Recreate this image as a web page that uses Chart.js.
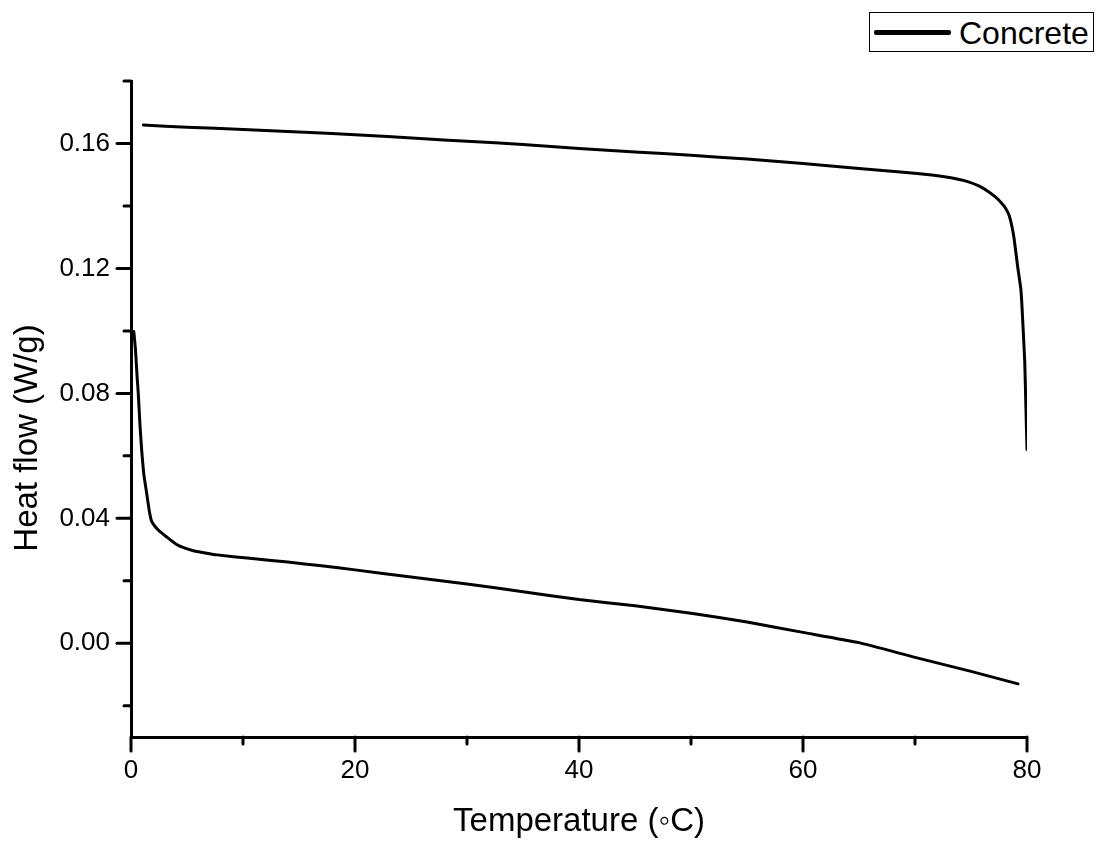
<!DOCTYPE html>
<html lang="en">
<head>
    <meta charset="UTF-8">
    <title>Heat flow - Concrete</title>
    <script src="https://cdn.jsdelivr.net/npm/chart.js"></script>
    <style>
        body, html {
            margin: 0;
            padding: 0;
            background: #fff;
        }
        .wrap {
            position: relative;
            width: 1102px;
            height: 847px;
        }
        .legend {
            position: absolute;
            left: 869px;
            top: 12px;
            width: 223px;
            height: 38px;
            border: 1px solid #000;
            background: #fff;
            font-family: Arial, "Liberation Sans", sans-serif;
            font-size: 32px;
            line-height: 38px;
            color: #000;
        }
        .legend .swatch {
            position: absolute;
            left: 4px;
            top: 17px;
            width: 77px;
            height: 5px;
            background: #000;
            border-radius: 2px;
        }
        .legend .txt {
            position: absolute;
            left: 89px;
            top: 1px;
        }
    </style>
</head>
<body>
    <div class="wrap">
        <canvas id="heatChart" width="1102" height="847"></canvas>
        <div class="legend"><span class="swatch"></span><span class="txt">Concrete</span></div>
    </div>

    <script>
        // heating run (0 -> 80 C)
        const heatT  = [0.25, 0.4, 0.55, 0.65, 0.8, 0.95, 1.15, 1.4, 1.65, 1.85, 2.5, 3.2, 4.0, 4.7, 5.5, 6.5, 7.7, 10.6, 14, 17, 20, 25, 30, 35, 40, 45, 50, 55, 60, 65, 70, 75, 79.2];
        const heatHF = [0.0998, 0.094, 0.085, 0.080, 0.070, 0.062, 0.054, 0.048, 0.042, 0.039, 0.036, 0.034, 0.0318, 0.0306, 0.0297, 0.0290, 0.0283, 0.0272, 0.026, 0.0248, 0.0235, 0.0212, 0.019, 0.0165, 0.014, 0.012, 0.0096, 0.0068, 0.0035, 0.0002, -0.0045, -0.009, -0.013];

        // cooling run (80 -> 0 C)
        const coolT  = [80.0, 79.9, 79.8, 79.7, 79.55, 79.45, 79.15, 78.85, 78.65, 78.4, 78.1, 77.7, 77.2, 76.5, 75.7, 74.7, 73.2, 71.7, 68.7, 65, 60, 55, 50, 45, 40, 35, 30, 25.8, 20, 15, 10, 5, 1.1];
        const coolHF = [0.062, 0.076, 0.09, 0.0973, 0.108, 0.1134, 0.121, 0.1295, 0.1335, 0.137, 0.1392, 0.1410, 0.1428, 0.1447, 0.1464, 0.1478, 0.1490, 0.1498, 0.1509, 0.152, 0.1536, 0.155, 0.1562, 0.1573, 0.1584, 0.1597, 0.1607, 0.1616, 0.1628, 0.1637, 0.1645, 0.1652, 0.1659];

        const xTicks = [0, 10, 20, 30, 40, 50, 60, 70, 80];
        const xLabeled = [0, 20, 40, 60, 80];
        const yTicks = [-0.02, 0, 0.02, 0.04, 0.06, 0.08, 0.10, 0.12, 0.14, 0.16, 0.18];
        const yLabeled = [0, 0.04, 0.08, 0.12, 0.16];
        const yTitle = 'Heat flow (W/g)';

        const FONT = 'Arial, "Liberation Sans", sans-serif';

        const toPoints = (xs, ys) => xs.map((x, i) => ({ x: x, y: ys[i] }));
        const isLabeled = (list, v) => list.some(l => Math.abs(l - v) < 1e-9);

        // Origin style ticks: long for labelled, short for the others, pointing out
        const tickPlugin = {
            id: 'originTicks',
            afterDraw(chart) {
                const ctx = chart.ctx;
                const xs = chart.scales.x, ys = chart.scales.y;
                const area = chart.chartArea;
                ctx.save();
                ctx.strokeStyle = '#000';
                ctx.lineWidth = 3;
                ctx.lineCap = 'round';
                xTicks.forEach(v => {
                    const px = xs.getPixelForValue(v);
                    const len = isLabeled(xLabeled, v) ? 14 : 7;
                    ctx.beginPath();
                    ctx.moveTo(px, area.bottom);
                    ctx.lineTo(px, area.bottom + len);
                    ctx.stroke();
                });
                yTicks.forEach(v => {
                    const py = ys.getPixelForValue(v);
                    const len = isLabeled(yLabeled, v) ? 14 : 7;
                    ctx.beginPath();
                    ctx.moveTo(area.left, py);
                    ctx.lineTo(area.left - len, py);
                    ctx.stroke();
                });
                // y title sits a little below the axis middle, as in Origin
                ctx.translate(28, 438);
                ctx.rotate(-Math.PI / 2);
                ctx.fillStyle = '#000';
                ctx.font = '33px ' + FONT;
                ctx.textAlign = 'center';
                ctx.textBaseline = 'middle';
                ctx.fillText(yTitle, 0, 0);
                ctx.restore();
            }
        };

        const lineStyle = {
            borderColor: '#000',
            borderWidth: 3,
            pointRadius: 0,
            tension: 0.15,
            fill: false,
            borderCapStyle: 'round',
            borderJoinStyle: 'round'
        };

        const ctx = document.getElementById('heatChart').getContext('2d');
        const heatChart = new Chart(ctx, {
            type: 'line',
            data: {
                datasets: [
                    Object.assign({ label: 'Concrete', data: toPoints(heatT, heatHF) }, lineStyle),
                    Object.assign({ label: 'Concrete', data: toPoints(coolT, coolHF) }, lineStyle)
                ]
            },
            options: {
                responsive: false,
                animation: false,
                layout: { padding: { top: 81, right: 75, left: 0, bottom: 0 } },
                plugins: {
                    legend: { display: false },
                    tooltip: { enabled: false }
                },
                scales: {
                    x: {
                        type: 'linear',
                        min: 0,
                        max: 80,
                        afterBuildTicks: s => { s.ticks = xTicks.map(v => ({ value: v })); },
                        afterFit: s => { s.height = 110; },
                        ticks: {
                            autoSkip: false,
                            maxRotation: 0,
                            color: '#000',
                            padding: 18,
                            font: { family: FONT, size: 26 },
                            callback: v => isLabeled(xLabeled, v) ? String(v) : ''
                        },
                        grid: { drawOnChartArea: false, drawTicks: false },
                        border: { display: true, color: '#000', width: 3 },
                        title: {
                            display: true,
                            text: 'Temperature (◦C)',
                            color: '#000',
                            font: { family: FONT, size: 33 },
                            padding: { top: 0, bottom: 5 }
                        }
                    },
                    y: {
                        type: 'linear',
                        min: -0.03,
                        max: 0.18,
                        afterBuildTicks: s => { s.ticks = yTicks.map(v => ({ value: v })); },
                        afterFit: s => { s.width = 131; },
                        ticks: {
                            autoSkip: false,
                            color: '#000',
                            padding: 21,
                            font: { family: FONT, size: 26 },
                            callback: v => isLabeled(yLabeled, v) ? v.toFixed(2) : ''
                        },
                        grid: { drawOnChartArea: false, drawTicks: false },
                        border: { display: true, color: '#000', width: 3 },
                        title: { display: false }
                    }
                }
            },
            plugins: [tickPlugin]
        });
    </script>
</body>
</html>
